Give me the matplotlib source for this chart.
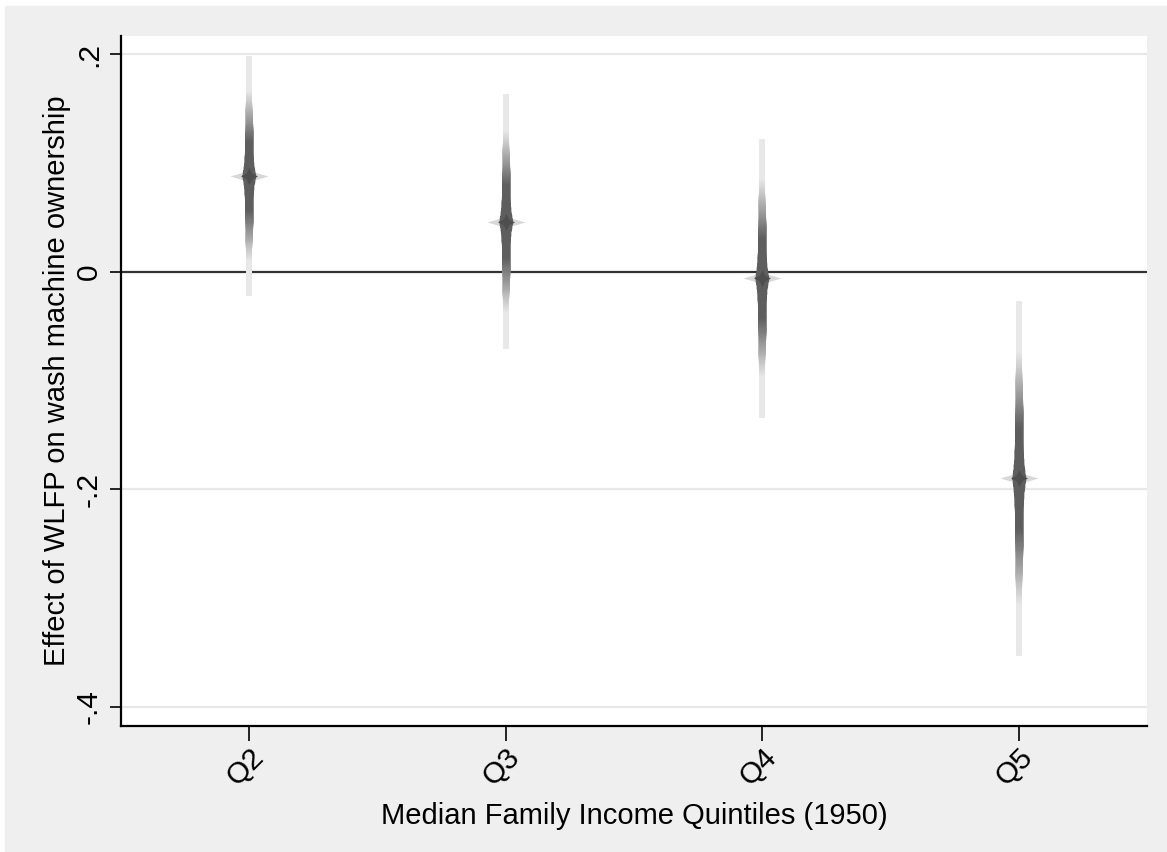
from statistics import NormalDist

import numpy as np
import matplotlib
matplotlib.use("Agg")
import matplotlib.pyplot as plt
from matplotlib.patches import Rectangle
from matplotlib.path import Path

plt.rcParams['font.family'] = ['Liberation Sans', 'DejaVu Sans']

# estimates
labels = ["Q2", "Q3", "Q4", "Q5"]
coef = [0.088, 0.046, -0.006, -0.190]
ci_lo = [-0.022, -0.072, -0.135, -0.353]
ci_hi = [0.198, 0.163, 0.121, -0.027]

W, H = 1167, 852
fig = plt.figure(figsize=(W / 100, H / 100), dpi=100, facecolor="white")
fig.patches.append(Rectangle((5 / W, 0), 1, 1 - 6 / H, transform=fig.transFigure,
                             color="#efefef", zorder=-10))
ax = fig.add_axes([121 / W, 1 - 726 / H, (1147 - 121) / W, (726 - 36) / H])
ax.set_facecolor("white")

x = np.arange(2, 6)
# outer bound taken as 99.9% level
zmax = NormalDist().inv_cdf(0.9995)
zs = np.linspace(zmax, 0.02, 200)
px = 0.72  # points per pixel

# light halo under the spikes
star = Path([(-1, 0), (-0.25, 0.22), (0, 0.7), (0.25, 0.22), (1, 0),
             (0.25, -0.22), (0, -0.7), (-0.25, -0.22), (-1, 0)], closed=True)
ax.scatter(x, coef, marker=star, s=(38 * px) ** 2, color="#d8d8d8", lw=0, zorder=3)

for xi, b, lo, hi in zip(x, coef, ci_lo, ci_hi):
    se = (hi - lo) / 2 / zmax
    for z in zs:
        t = np.clip((z - 0.95) / 1.4, 0, 1)
        g = 0.37 + (0.91 - 0.37) * t
        w = 5.5 + 2.5 * (1 - t) + 6.0 * max(0.0, 1.0 - z / 0.7) ** 2
        ax.plot([xi, xi], [b - z * se, b + z * se], color=(g, g, g),
                lw=w * px, solid_capstyle="butt", zorder=4)

diamond = Path([(-1, 0), (-0.35, 0.3), (0, 1), (0.35, 0.3), (1, 0),
                (0.35, -0.3), (0, -1), (-0.35, -0.3), (-1, 0)], closed=True)
ax.scatter(x, coef, marker=diamond, s=(17 * px) ** 2, color="#4e4e4e", lw=0, zorder=5)

ax.axhline(0, color="#333333", lw=1.6, zorder=2)
for yv in [0.2, -0.2, -0.4]:
    ax.axhline(yv, color="#e8e8e8", lw=1.6, zorder=1)

ax.set_xlim(1.5, 5.5)
ax.set_ylim(-0.4175, 0.2166)
ax.set_xticks(x)
ax.set_xticklabels(labels, rotation=45, ha="right", rotation_mode="anchor")
ax.set_yticks([0.2, 0, -0.2, -0.4])
ax.set_yticklabels([".2", "0", "-.2", "-.4"], rotation=90, va="center")
ax.tick_params(axis="both", labelsize=21.5, width=1.2, length=8, color="black")
ax.tick_params(axis="x", length=11, pad=1)
ax.tick_params(axis="y", pad=5)

for s in ["top", "right"]:
    ax.spines[s].set_visible(False)
for s in ["left", "bottom"]:
    ax.spines[s].set_linewidth(1.6)

ax.set_xlabel("Median Family Income Quintiles (1950)", fontsize=21, labelpad=8)
ax.set_ylabel("Effect of WLFP on wash machine ownership", fontsize=21, labelpad=3)

fig.savefig("out.png", dpi=100, facecolor=fig.get_facecolor())
